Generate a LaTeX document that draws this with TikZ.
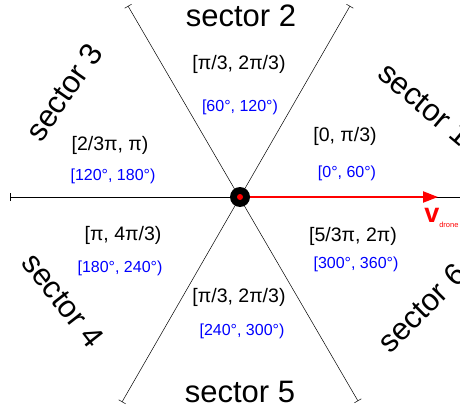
\documentclass[tikz,border=0pt]{standalone}
\usepackage{fontspec}
\setmainfont{Liberation Sans}
\usetikzlibrary{arrows.meta}

\begin{document}
\begin{tikzpicture}[x=1pt,y=-1pt,line width=0.5pt,
  sectorlbl/.style={font=\fontsize{31}{34}\selectfont,inner sep=0pt},
  radlbl/.style={font=\fontsize{19.5}{22}\selectfont,inner sep=0pt},
  deglbl/.style={font=\fontsize{16}{18}\selectfont,text=blue,inner sep=0pt},
  barline/.style={{Bar[width=8pt]}-{Bar[width=8pt]}}]

\useasboundingbox (0,0) rectangle (460,409);

% line ends
\coordinate (c) at (240,197);
\coordinate (l) at (10,197);
\coordinate (r) at (462,197);
\coordinate (ul) at (128,6);
\coordinate (ur) at (350,6);
\coordinate (ll) at (122,402);
\coordinate (lr) at (358,401);
\coordinate (tip) at (438,197);

\draw[{Bar[width=8pt]}-] (l) -- (r); %0-180
\draw[barline] (ll) -- (ur); %60-240
\draw[barline] (ul) -- (lr); %120-300

% velocity
\draw[red,line width=2.2pt,-{Triangle[length=15pt,width=11pt]}] (c) -- (tip);
\node[circle,fill=black,inner sep=0pt,minimum size=20pt] (dot) at (c) {};
\node[circle,fill=red,inner sep=0pt,minimum size=6pt] (dotc) at (c) {};
\node[text=red,anchor=base west,inner sep=0pt] (v) at (424,222)
  {\fontsize{27}{28}\selectfont\bfseries v\fontsize{7.5}{8}\selectfont\mdseries\raisebox{-5pt}{drone}};

% sector names
\node[sectorlbl] (s1) at (425,104) [rotate=-40] {sector 1};
\node[sectorlbl] (s2) at (241,16) {sector 2};
\node[sectorlbl] (s3) at (64,92) [rotate=55] {sector 3};
\node[sectorlbl] (s4) at (63,300) [rotate=-52] {sector 4};
\node[sectorlbl] (s5) at (240,392) {sector 5};
\node[sectorlbl] (s6) at (422,308) [rotate=45] {sector 6};

% ranges
\node[radlbl] (r1) at (345,136) {[0, π/3)};
\node[deglbl] (d1) at (347,173) {[0°, 60°)};
\node[radlbl] (r2) at (239,64) {[π/3, 2π/3)};
\node[deglbl] (d2) at (240,107) {[60°, 120°)};
\node[radlbl] (r3) at (110,145) {[2/3π, π)};
\node[deglbl] (d3) at (113,176) {[120°, 180°)};
\node[radlbl] (r4) at (123,235) {[π, 4π/3)};
\node[deglbl] (d4) at (120,268) {[180°, 240°)};
\node[radlbl] (r5) at (239,297) {[π/3, 2π/3)};
\node[deglbl] (d5) at (242,331) {[240°, 300°)};
\node[radlbl] (r6) at (353,236) {[5/3π, 2π)};
\node[deglbl] (d6) at (356,264) {[300°, 360°)};

\end{tikzpicture}
\end{document}
